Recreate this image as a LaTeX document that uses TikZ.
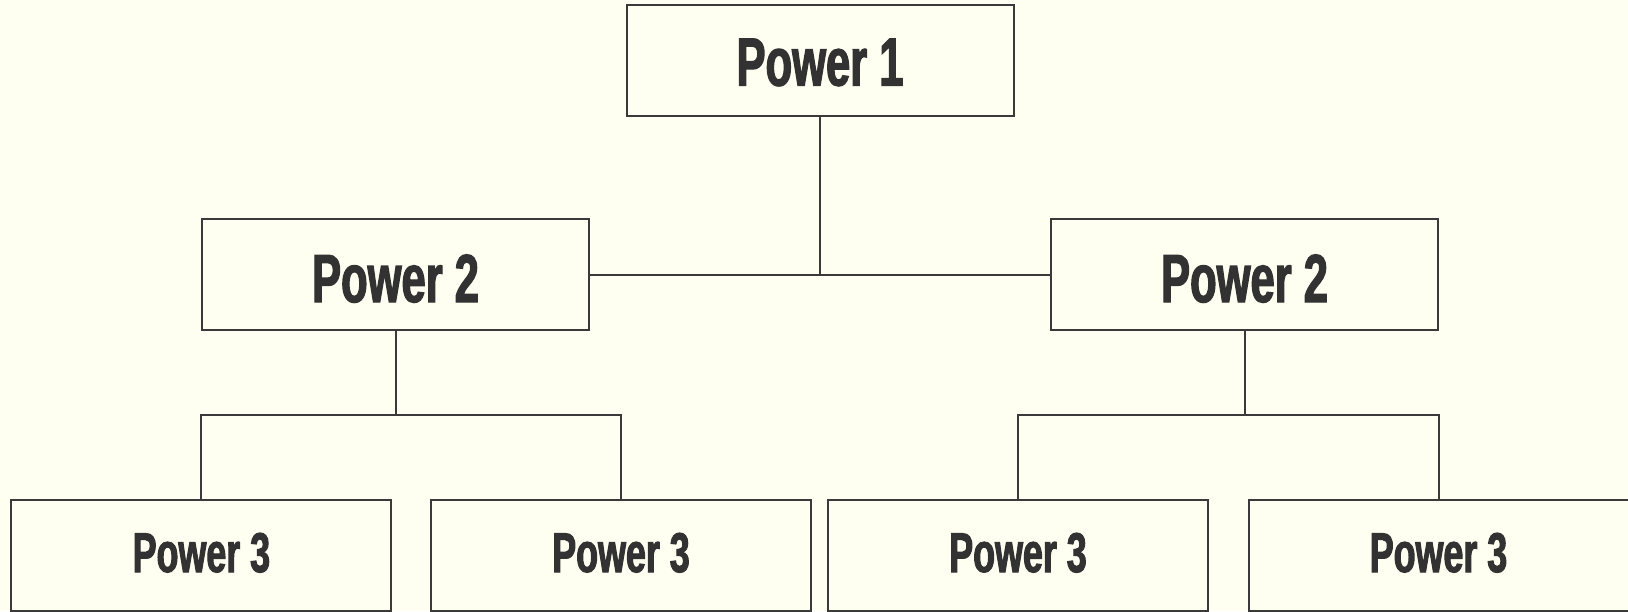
\documentclass[tikz,border=0pt]{standalone}
\usepackage{fontspec}
\newfontfamily\condfont[FakeStretch=0.64,FakeBold=1.8]{Liberation Sans Bold}
\usetikzlibrary{calc}
\definecolor{bgcol}{HTML}{FEFEF1}
\definecolor{ink}{HTML}{333233}
\definecolor{edge}{HTML}{3A3A3A}
\tikzset{
  box/.style={draw=edge, line width=2pt, fill=bgcol, text=ink, inner sep=0pt,
    minimum width=387pt, minimum height=111pt, text depth=0pt, text height=55pt,
    font=\condfont\fontsize{68}{70}\selectfont},
  topbox/.style={box, text height=50pt},
  smallbox/.style={box, minimum width=380pt, text height=34pt, font=\condfont\fontsize{56}{58}\selectfont},
  link/.style={draw=edge, line width=2pt}
}
\begin{document}
\begin{tikzpicture}[x=1pt,y=-1pt]
\fill[bgcol] (0,0) rectangle (1628,611);
\useasboundingbox (0,0) rectangle (1628,611);
\node[topbox] (P1) at (820,60.5) {Power 1};
\node[box] (P2L) at (395.5,274.5) {Power 2};
\node[box] (P2R) at (1244.5,274.5) {Power 2};
\node[smallbox] (P3a) at (201.4,555) {Power 3};
\node[smallbox] (P3b) at (621,555) {Power 3};
\node[smallbox] (P3c) at (1018,555) {Power 3};
\node[smallbox] (P3d) at (1438.5,555) {Power 3};
\coordinate (jTop) at (820,274.5);
\coordinate (jL) at (395.5,415);
\coordinate (jR) at (1244.5,415);
\draw[link] (P1.south) -- (jTop);
\draw[link] (P2L.east) -- (P2R.west);
\draw[link] (P2L.south) -- (jL);
\draw[link] (P3a.north) |- (jL) -| (P3b.north);
\draw[link] (P2R.south) -- (jR);
\draw[link] (P3c.north) |- (jR) -| (P3d.north);
\end{tikzpicture}
\end{document}
